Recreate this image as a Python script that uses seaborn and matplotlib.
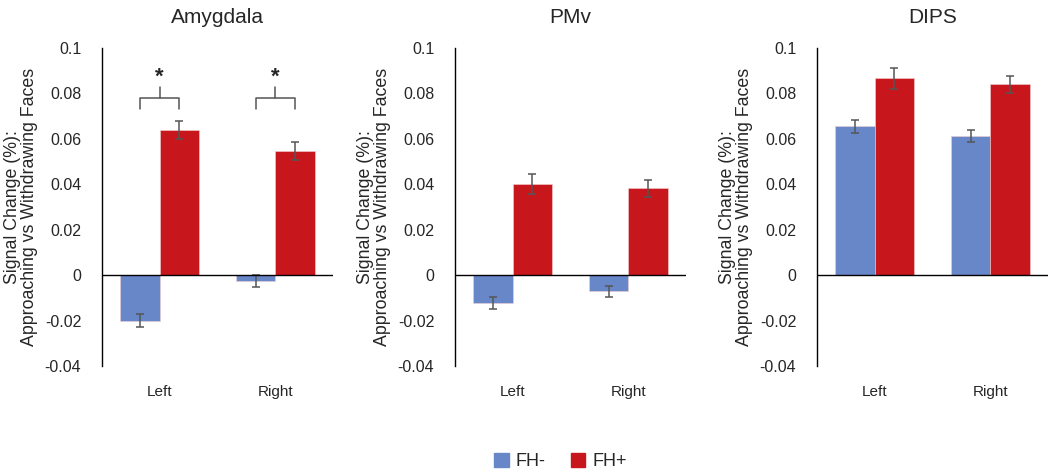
import pandas as pd
import numpy as np
import matplotlib.pyplot as plt
import seaborn as sns
from matplotlib.patches import Patch

sns.set_style('white')
plt.rcParams['font.family'] = ['Liberation Sans', 'DejaVu Sans']

# Data
regions = ['Amygdala', 'PMv', 'DIPS']
sides = ['Left', 'Right']
groups = ['FH-', 'FH+']

fh_minus = {'Amygdala': [-0.0200, -0.0026], 'PMv': [-0.0123, -0.0072], 'DIPS': [0.0655, 0.0613]}
fh_plus = {'Amygdala': [0.0638, 0.0547], 'PMv': [0.0401, 0.0383], 'DIPS': [0.0866, 0.0840]}
err_minus = {'Amygdala': [0.0027, 0.0025], 'PMv': [0.0025, 0.0023], 'DIPS': [0.0030, 0.0028]}
err_plus = {'Amygdala': [0.0040, 0.0040], 'PMv': [0.0044, 0.0038], 'DIPS': [0.0045, 0.0037]}
significant = {'Amygdala': [True, True], 'PMv': [False, False], 'DIPS': [False, False]}

colors = {'FH-': '#6787C9', 'FH+': '#C8161D'}
ylabel = 'Signal Change (%):\nApproaching vs Withdrawing Faces'

W, H = 1050, 472
fig = plt.figure(figsize=(W / 100, H / 100), dpi=100)

# axes positions in pixels
ax_lefts = [102, 455, 817]
ax_width = 231
ax_top, ax_bottom = 48, 366

for i, region in enumerate(regions):
    ax = fig.add_axes([ax_lefts[i] / W, 1 - ax_bottom / H, ax_width / W, (ax_bottom - ax_top) / H])
    df = pd.DataFrame({
        'side': sides * 2,
        'group': [groups[0]] * 2 + [groups[1]] * 2,
        'value': fh_minus[region] + fh_plus[region],
    })
    sns.barplot(data=df, x='side', y='value', hue='group', order=sides, hue_order=groups,
                palette=colors, saturation=1, width=0.68, errorbar=None, ax=ax, legend=False,
                edgecolor='#f0d0d0', linewidth=0.4)

    errs = [err_minus[region], err_plus[region]]
    vals = [fh_minus[region], fh_plus[region]]
    bar_conts = list(ax.containers)
    centers = []
    for k, cont in enumerate(bar_conts):
        xs = [p.get_x() + p.get_width() / 2 for p in cont.patches]
        centers.append(xs)
        ax.errorbar(xs, vals[k], yerr=errs[k], fmt='none', ecolor='#555555',
                    elinewidth=1.1, capsize=3, capthick=1.1)

    # significance brackets
    for j, sig in enumerate(significant[region]):
        if sig:
            x0, x1 = centers[0][j], centers[1][j]
            ax.plot([x0, x0, x1, x1], [0.073, 0.078, 0.078, 0.073], color='#555555', lw=1.1)
            ax.plot([(x0 + x1) / 2] * 2, [0.078, 0.083], color='#555555', lw=1.1)
            ax.text((x0 + x1) / 2, 0.0825, '*', ha='center', va='bottom', fontsize=16,
                    fontweight='bold')

    ax.axhline(0, color='black', lw=1)
    ax.set_ylim(-0.04, 0.1)
    ax.set_xlim(-0.5, 1.5)
    ax.set_yticks(np.arange(-0.04, 0.101, 0.02))
    ax.set_yticklabels(['-0.04', '-0.02', '0', '0.02', '0.04', '0.06', '0.08', '0.1'])
    ax.tick_params(axis='y', length=0, labelsize=11.5, pad=15)
    ax.tick_params(axis='x', length=0, labelsize=11, pad=14)
    ax.set_xlabel('')
    ax.set_ylabel(ylabel, fontsize=12.8, labelpad=5, linespacing=1.0)
    ax.set_title(region, fontsize=15, pad=18)
    for s in ['top', 'right', 'bottom']:
        ax.spines[s].set_visible(False)
    ax.spines['left'].set_color('black')
    ax.spines['left'].set_linewidth(1)

handles = [Patch(color=colors[g], label=g) for g in groups]
fig.legend(handles=handles, loc='lower center', bbox_to_anchor=(0.534, -0.03), ncol=2,
           frameon=False, fontsize=13, handlelength=0.8, handleheight=0.8,
           columnspacing=1.4, handletextpad=0.4)

fig.savefig('out.png', dpi=100)
